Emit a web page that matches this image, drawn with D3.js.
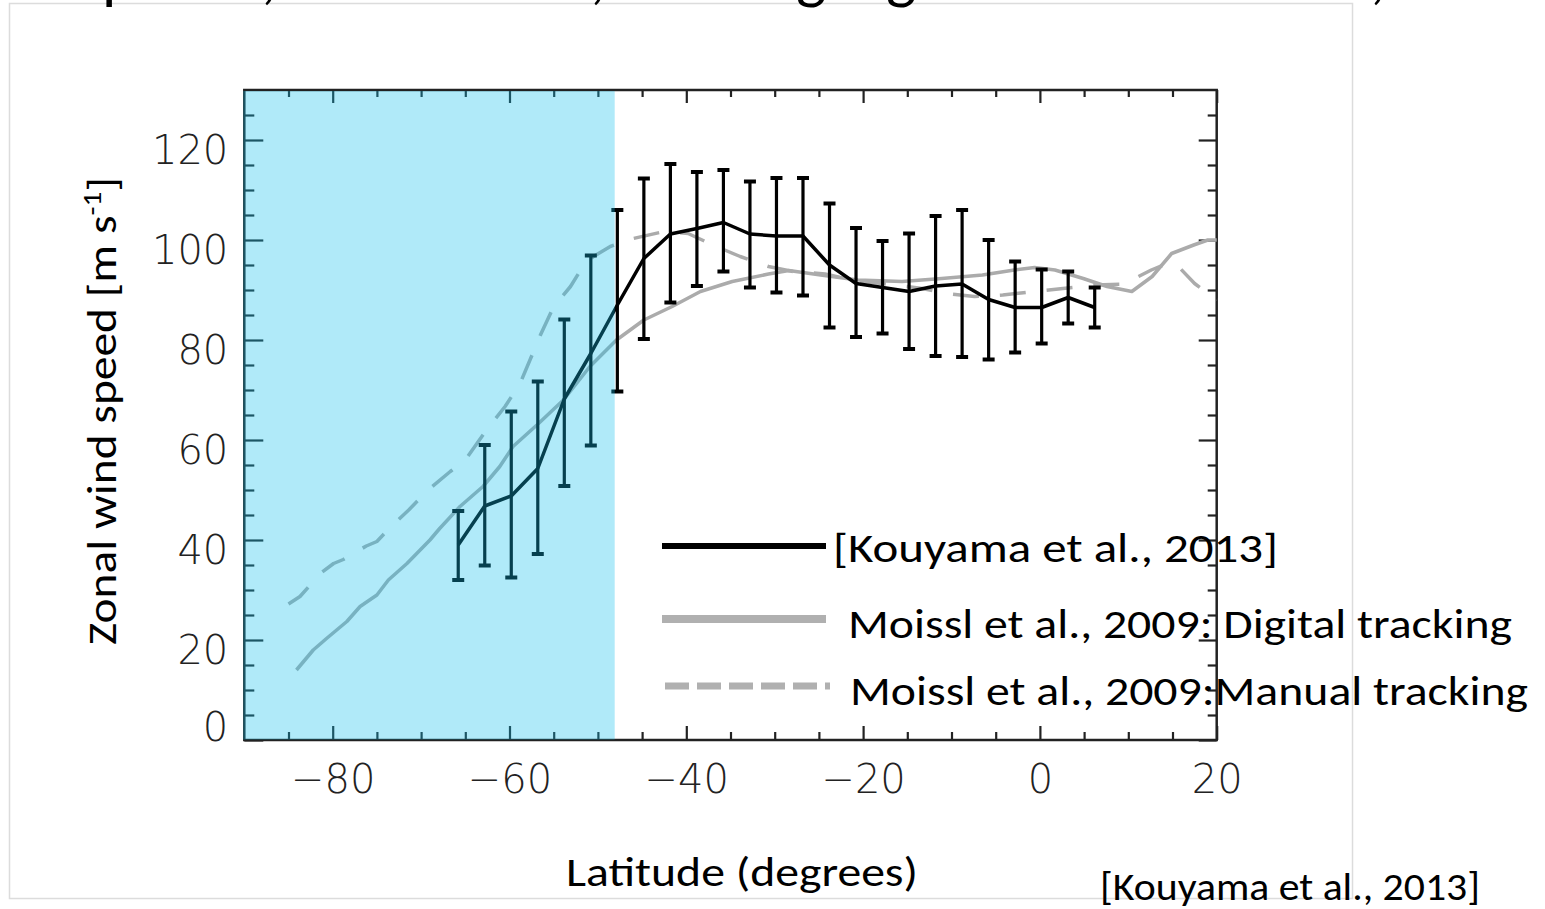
<!DOCTYPE html>
<html>
<head>
<meta charset="utf-8">
<script src="https://cdn.jsdelivr.net/npm/d3@7"></script>
<style>
  body { margin: 0; background: #fff; }
  svg { display: block; }
</style>
</head>
<body>
<script>
//wrap everything in a self-executing function to keep it out of global scope
(function all(){
  //Kouyama et al. (2013) profile: latitude bins, mean speed and error bar ends
  var kouLat = [-65.8, -62.8, -59.8, -56.8, -53.8, -50.8, -47.8, -44.8, -41.8, -38.8, -35.8, -32.8, -29.8,
                -26.8, -23.8, -20.8, -17.8, -14.8, -11.8, -8.8, -5.8, -2.8, 0.2, 3.2, 6.2];
  var kouVal = [39, 46.8, 48.8, 54.3, 68.2, 77.3, 87, 96.3, 101.2, 102.3, 103.5, 101.2, 100.8,
                100.8, 95, 91.3, 90.5, 89.7, 90.8, 91.2, 88.1, 86.5, 86.5, 88.5, 86.5];
  var kouHi  = [45.8, 59, 65.7, 71.7, 84.1, 96.9, 106, 112.3, 115.2, 113.6, 114, 111.7, 112.4,
                112.4, 107.3, 102.4, 99.8, 101.3, 104.8, 106, 100, 95.7, 94.1, 93.7, 90.5];
  var kouLo  = [32, 34.9, 32.5, 37.2, 50.8, 58.9, 69.7, 80.2, 87.5, 90.8, 93.7, 90.5, 89.5,
                88.9, 82.5, 80.6, 81.3, 78.2, 76.8, 76.6, 76.1, 77.5, 79.3, 83.3, 82.5];

  //Moissl et al. (2009) digital tracking (solid grey)
  var digLat = [-84.1, -82.2, -80.7, -78.4, -76.9, -75.0, -73.7, -71.6, -69.0, -67.9, -65.6, -63.0, -61.1,
                -59.6, -56.9, -53.9, -50.9, -47.9, -44.8, -41.6, -38.4, -34.8, -30.7, -28.4, -24.8, -20.6,
                -15.6, -11.1, -6.5, -2.9, -0.6, 1.7, 4.9, 7.6, 10.4, 12.7, 14.9, 17.4, 19.0, 20.0];
  var digVal = [14, 18, 20.3, 23.7, 26.7, 29, 32, 35.3, 40, 42.3, 46.7, 50.7, 54.7,
                58.7, 63, 68, 74.7, 80, 84, 86.7, 89.7, 91.7, 93.2, 93.9, 93, 92,
                91.7, 92.3, 93, 94, 94.5, 94, 92.3, 90.7, 89.7, 92.7, 97.3, 99, 100, 100];

  //Moissl et al. (2009) manual tracking (dashed grey)
  var manLat = [-85.0, -83.7, -81.4, -79.9, -78.8, -76.2, -75.0, -73.5, -71.4, -69.2, -66.7, -65.0, -62.6,
                -60.5, -58.8, -56.5, -55.0, -53.1, -51.7, -50.5, -48.6, -46.0, -42.5, -39.8, -36.6, -33.9,
                -30.7, -27.9, -24.3, -21.1, -17.9, -13.3, -10.6, -7.4, -4.2, -0.6, 2.6, 6.3, 9.5,
                12.6, 14.0, 15.5, 17.5, 20.0];
  var manVal = [27.2, 28.7, 33.3, 35.3, 36.1, 38.8, 39.7, 42.5, 46, 50, 53.7, 56, 62,
                66.7, 71.3, 81, 86.7, 90.7, 94.7, 96.7, 98.7, 100.3, 101.7, 101.3, 98.7, 96.7,
                94.7, 93.7, 93.2, 91.9, 91.3, 90.3, 89.3, 88.7, 89, 89.7, 90.3, 91, 91.2,
                94, 95, 95, 91.3, 88];

  //shaded (highlighted) latitude band
  var shadeLat = [-90, -48.1];

  //axis ticks
  var xMajor = [-80, -60, -40, -20, 0, 20];
  var xMinor = d3.range(-85, 20, 5).filter(function(d){ return d % 20 !== 0; });
  var yMajor = [0, 20, 40, 60, 80, 100, 120];
  var yMinor = d3.range(5, 130, 5).filter(function(d){ return d % 20 !== 0; });

  //texts
  var yTitle = "Zonal wind speed [m s";
  var xTitle = "Latitude (degrees)";
  var legendLabels = ["[Kouyama et al., 2013]", "Moissl et al., 2009: Digital tracking", "Moissl et al., 2009:Manual tracking"];
  var sourceLabel = "[Kouyama et al., 2013]";

  var width = 1545, height = 909;
  var slideFont = "Carlito, Calibri, Lato, 'Open Sans', sans-serif";
  var idlFont = "'DejaVu Sans', sans-serif";

  var svg = d3.select("body").append("svg")
    .attr("width", width)
    .attr("height", height);

  //slide frame
  svg.append("rect")
    .attr("x", 9.5).attr("y", 3.5)
    .attr("width", 1343).attr("height", 895)
    .attr("fill", "none")
    .attr("stroke", "#dcdcdc")
    .attr("stroke-width", 1.5);

  //bottoms of the slide title, cut off by the top edge
  var title = svg.append("text")
    .attr("y", -3)
    .style("font-family", slideFont)
    .style("font-size", "64px")
    .attr("fill", "#000");
  [["p", 102], [",", 261], [",", 590], ["g", 796], ["g", 886], [",", 1370]].forEach(function(t){
    title.append("tspan").attr("x", t[1]).attr("y", -3).text(t[0]);
  });

  var x = d3.scaleLinear().domain([-90, 20]).range([244.3, 1216.7]);
  var y = d3.scaleLinear().domain([0, 130]).range([740, 90]);

  var plot = svg.append("g").attr("class", "plot");

  //axes: ticks point inwards on all four sides
  function tickAxis(axis, pos, values, size){
    var g = plot.append("g")
      .attr("transform", pos)
      .call(axis.tickValues(values).tickSize(size).tickFormat(""));
    g.select(".domain").remove();
    g.selectAll("line").attr("stroke", "#222").attr("stroke-width", 2.2);
    return g;
  }
  tickAxis(d3.axisBottom(x), "translate(0,740)", xMinor, -8);
  tickAxis(d3.axisBottom(x), "translate(0,740)", xMajor, -14);
  tickAxis(d3.axisTop(x), "translate(0,90)", xMinor, -7);
  tickAxis(d3.axisTop(x), "translate(0,90)", xMajor, -13);
  tickAxis(d3.axisLeft(y), "translate(244.3,0)", yMinor, -10);
  tickAxis(d3.axisLeft(y), "translate(244.3,0)", yMajor, -19);
  tickAxis(d3.axisRight(y), "translate(1216.7,0)", yMinor, -9);
  tickAxis(d3.axisRight(y), "translate(1216.7,0)", yMajor, -18);

  //frame
  plot.append("rect")
    .attr("x", x(-90)).attr("y", y(130))
    .attr("width", x(20) - x(-90)).attr("height", y(0) - y(130))
    .attr("fill", "none")
    .attr("stroke", "#222")
    .attr("stroke-width", 2.5);

  //tick labels
  var xLab = plot.append("g")
    .attr("transform", "translate(0,740)")
    .call(d3.axisBottom(x).tickValues(xMajor).tickSize(0)
      .tickFormat(function(d){ return d < 0 ? "\u2212" + Math.abs(d) : d; }));
  xLab.select(".domain").remove();
  xLab.selectAll("text")
    .attr("y", 53).attr("dy", null)
    .style("font-family", idlFont).style("font-weight", 200)
    .style("font-size", "40px").attr("fill", "#222");

  var yLab = plot.append("g")
    .attr("transform", "translate(244.3,0)")
    .call(d3.axisLeft(y).tickValues(yMajor).tickSize(0).tickPadding(16));
  yLab.select(".domain").remove();
  yLab.selectAll("text")
    .attr("dy", null)
    .attr("y", function(d){ return d === 0 ? 0 : 23; })
    .style("font-family", idlFont).style("font-weight", 200)
    .style("font-size", "40px").attr("fill", "#222");

  //Moissl curves
  var line = d3.line()
    .x(function(d){ return x(d[0]); })
    .y(function(d){ return y(d[1]); });

  plot.append("path")
    .datum(d3.zip(digLat, digVal))
    .attr("d", line)
    .attr("fill", "none")
    .attr("stroke", "#ababab")
    .attr("stroke-width", 3.5)
    .attr("stroke-linejoin", "round");

  plot.append("path")
    .datum(d3.zip(manLat, manVal))
    .attr("d", line)
    .attr("fill", "none")
    .attr("stroke", "#ababab")
    .attr("stroke-width", 3.5)
    .attr("stroke-dasharray", "26,21")
    .attr("stroke-linejoin", "round");

  //Kouyama profile with error bars
  var kou = kouLat.map(function(lat, i){
    return {lat: lat, val: kouVal[i], hi: kouHi[i], lo: kouLo[i]};
  });

  var bars = plot.append("g").attr("class", "errorbars")
    .selectAll("g")
    .data(kou)
    .enter()
    .append("g")
    .attr("stroke", "#000");
  bars.append("line")
    .attr("x1", function(d){ return x(d.lat); })
    .attr("x2", function(d){ return x(d.lat); })
    .attr("y1", function(d){ return y(d.hi); })
    .attr("y2", function(d){ return y(d.lo); })
    .attr("stroke-width", 3.2);
  ["hi", "lo"].forEach(function(k){
    bars.append("line")
      .attr("x1", function(d){ return x(d.lat) - 6; })
      .attr("x2", function(d){ return x(d.lat) + 6; })
      .attr("y1", function(d){ return y(d[k]); })
      .attr("y2", function(d){ return y(d[k]); })
      .attr("stroke-width", 4);
  });

  plot.append("path")
    .datum(d3.zip(kouLat, kouVal))
    .attr("d", line)
    .attr("fill", "none")
    .attr("stroke", "#000")
    .attr("stroke-width", 3.5)
    .attr("stroke-linejoin", "round");

  //translucent cyan band laid over the southern part of the plot
  plot.append("rect")
    .attr("x", x(shadeLat[0]) - 1)
    .attr("y", y(130) + 1)
    .attr("width", x(shadeLat[1]) - x(shadeLat[0]) + 1)
    .attr("height", y(0) - y(130) - 1.5)
    .attr("fill", "rgb(18,192,237)")
    .attr("fill-opacity", 0.333);

  //slide-font text stretched to the measured width
  function slideText(str, px, py, len, size){
    return svg.append("text")
      .attr("x", px).attr("y", py)
      .attr("textLength", len)
      .attr("lengthAdjust", "spacingAndGlyphs")
      .style("font-family", slideFont)
      .style("font-size", size + "px")
      .attr("fill", "#000")
      .text(str);
  }

  //axis titles
  slideText(xTitle, 566, 886, 352, 42);
  var yt = svg.append("text")
    .attr("transform", "translate(116,645) rotate(-90)")
    .attr("textLength", 468)
    .attr("lengthAdjust", "spacingAndGlyphs")
    .style("font-family", slideFont)
    .style("font-size", "42px")
    .attr("fill", "#000");
  yt.append("tspan").text(yTitle);
  yt.append("tspan").attr("dy", -15).style("font-size", "26px").text("-1");
  yt.append("tspan").attr("dy", 15).text("]");

  //legend
  var legendStyles = [
    {stroke: "#000", width: 6, dash: null, x1: 662, x2: 826},
    {stroke: "#b0b0b0", width: 8, dash: null, x1: 662, x2: 826},
    {stroke: "#b0b0b0", width: 7, dash: "24,8", x1: 665, x2: 830}
  ];
  var legendRows = [546, 619, 686];
  var legendText = [[833, 562, 445], [848, 638, 664], [850, 705, 678]];
  legendLabels.forEach(function(lbl, i){
    var s = legendStyles[i];
    svg.append("line")
      .attr("x1", s.x1).attr("x2", s.x2)
      .attr("y1", legendRows[i]).attr("y2", legendRows[i])
      .attr("stroke", s.stroke)
      .attr("stroke-width", s.width)
      .attr("stroke-dasharray", s.dash);
    slideText(lbl, legendText[i][0], legendText[i][1], legendText[i][2], 42);
  });

  //source note
  slideText(sourceLabel, 1100, 900, 380, 38);
})();
</script>
</body>
</html>
